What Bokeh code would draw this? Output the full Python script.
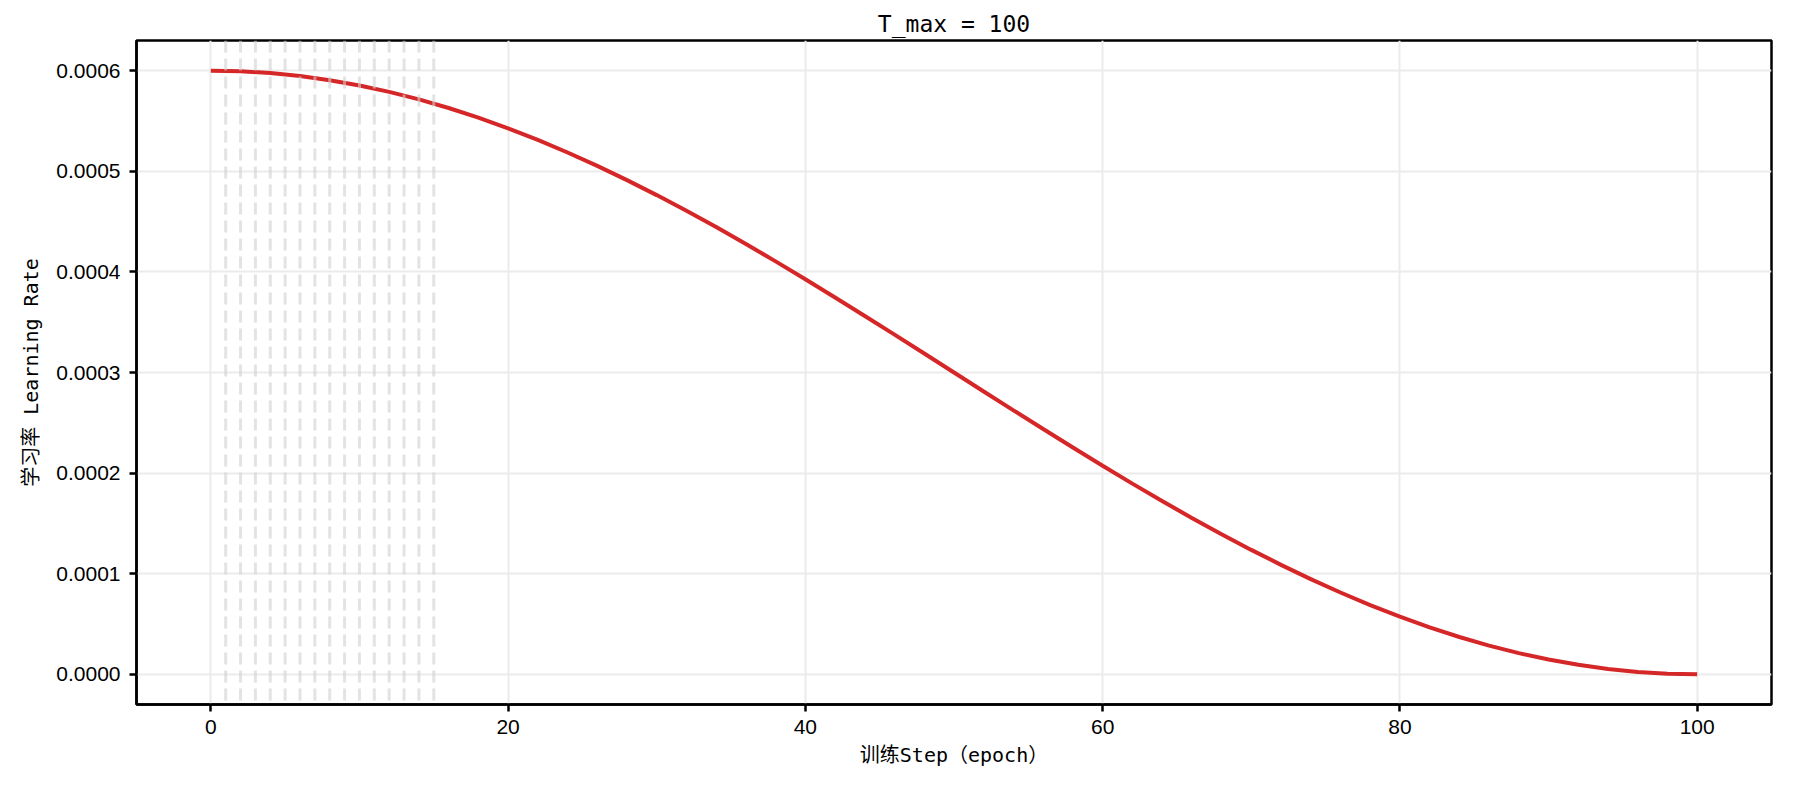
from bokeh.plotting import figure
from bokeh.models import Range1d, FixedTicker, PrintfTickFormatter, Span, ColumnDataSource
from bokeh.embed import file_html
from bokeh.resources import INLINE

# ---- data ----
epochs = [0, 2, 4, 6, 8, 10, 12, 14, 16, 18, 20, 22, 24, 26, 28, 30, 32, 34, 36, 38,
          40, 42, 44, 46, 48, 50, 52, 54, 56, 58, 60, 62, 64, 66, 68, 70, 72, 74, 76, 78,
          80, 82, 84, 86, 88, 90, 92, 94, 96, 98, 100]
learning_rates = [
    0.000600000, 0.000599408, 0.000597635, 0.000594686, 0.000590575, 0.000585317,
    0.000578933, 0.000571448, 0.000562892, 0.000553298, 0.000542705, 0.000531154,
    0.000518691, 0.000505364, 0.000491227, 0.000476336, 0.000460748, 0.000444526,
    0.000427734, 0.000410438, 0.000392705, 0.000374607, 0.000356214, 0.000337600,
    0.000318837, 0.000300000, 0.000281163, 0.000262400, 0.000243786, 0.000225393,
    0.000207295, 0.000189562, 0.000172266, 0.000155474, 0.000139252, 0.000123664,
    0.000108773, 0.000094636, 0.000081309, 0.000068846, 0.000057295, 0.000046702,
    0.000037108, 0.000028552, 0.000021067, 0.000014683, 0.000009425, 0.000005314,
    0.000002365, 0.000000592, 0.000000000,
]
marker_epochs = [1, 2, 3, 4, 5, 6, 7, 8, 9, 10, 11, 12, 13, 14, 15]
x_ticks = [0, 20, 40, 60, 80, 100]
y_ticks = [0.0, 0.0001, 0.0002, 0.0003, 0.0004, 0.0005, 0.0006]
title_text = "T_max = 100"
x_label = "训练Step（epoch）"
y_label = "学习率 Learning Rate"

source = ColumnDataSource(data=dict(epoch=epochs, lr=learning_rates))

LABEL_FONT = "DejaVu Sans Mono, Noto Sans CJK SC"

p = figure(
    width=1778, height=776,
    output_backend="svg", toolbar_location=None,
    x_range=Range1d(-5, 105), y_range=Range1d(-0.00003, 0.00063),
    min_border_left=136, min_border_right=7, min_border_top=40, min_border_bottom=72,
)

# title
p.title.text = title_text
p.title.align = "center"
p.title.text_font = "DejaVu Sans Mono"
p.title.text_font_size = "23px"
p.title.text_font_style = "normal"
p.title.text_color = "black"
p.title.standoff = 8

# frame outline
p.outline_line_color = "black"
p.outline_line_width = 2.5
p.outline_line_alpha = 1.0
p.background_fill_color = "white"
p.border_fill_color = "white"

# axes
for ax in (p.xaxis[0], p.yaxis[0]):
    ax.axis_line_color = "black"
    ax.axis_line_width = 2.5
    ax.major_tick_line_color = "black"
    ax.major_tick_line_width = 2.5
    ax.major_tick_out = 7
    ax.major_tick_in = 0
    ax.minor_tick_line_color = None
    ax.major_label_text_font = "Liberation Sans"
    ax.major_label_text_font_size = "21px"
    ax.major_label_text_color = "black"
    ax.axis_label_text_font = LABEL_FONT
    ax.axis_label_text_font_size = "20px"
    ax.axis_label_text_font_style = "normal"
    ax.axis_label_text_color = "black"

p.xaxis.ticker = FixedTicker(ticks=x_ticks)
p.yaxis.ticker = FixedTicker(ticks=y_ticks)
p.yaxis.formatter = PrintfTickFormatter(format="%.4f")
p.xaxis.axis_label = x_label
p.yaxis.axis_label = y_label
p.xaxis.major_label_standoff = 8
p.yaxis.major_label_standoff = 9
p.xaxis.axis_label_standoff = 6
p.yaxis.axis_label_standoff = 10

# grid
for g in (p.xgrid[0], p.ygrid[0]):
    g.grid_line_color = "#ebebeb"
    g.grid_line_width = 2

# main curve
p.line("epoch", "lr", source=source, line_color="#d62728", line_width=4)

# dashed markers at each early epoch
for e in marker_epochs:
    p.add_layout(Span(location=e, dimension="height", line_color="#d0d0d0",
                      line_alpha=0.6, line_width=3, line_dash="12 6"))

open("out.html", "w").write(file_html(p, INLINE))
